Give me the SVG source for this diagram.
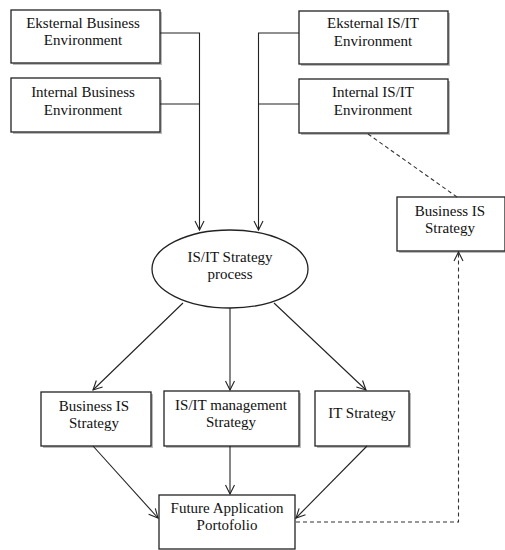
<svg xmlns="http://www.w3.org/2000/svg" width="505" height="550" viewBox="0 0 505 550">
<style>
.box{fill:#fff;stroke:#222;stroke-width:1.3}
.sh{fill:#bbb}
.t{font-family:"Liberation Serif","Times New Roman",serif;font-size:15px;fill:#111;text-anchor:middle}
.c{fill:none;stroke:#222;stroke-width:1.1}
.d{fill:none;stroke:#333;stroke-width:1.1;stroke-dasharray:4 3}
</style>
<defs>
<marker id="a" markerWidth="12" markerHeight="12" refX="10" refY="6" orient="auto" markerUnits="userSpaceOnUse">
<polyline points="1,1.5 10,6 1,10.5" fill="none" stroke="#222" stroke-width="1.1"/>
</marker>
</defs>
<rect width="505" height="550" fill="#fff"/>
<g id="n1"><rect class="sh" x="13" y="12" width="149" height="53"/><rect class="box" x="11" y="10" width="149" height="53"/><text class="t" x="83" y="28">Eksternal Business</text><text class="t" x="83" y="45">Environment</text></g>
<g id="n2"><rect class="sh" x="13" y="80" width="149" height="54"/><rect class="box" x="11" y="78" width="149" height="54"/><text class="t" x="83" y="97">Internal Business</text><text class="t" x="83" y="115">Environment</text></g>
<g id="n3"><rect class="sh" x="301" y="13" width="149" height="53"/><rect class="box" x="299" y="11" width="149" height="53"/><text class="t" x="373" y="28">Eksternal IS/IT</text><text class="t" x="373" y="46">Environment</text></g>
<g id="n4"><rect class="sh" x="301" y="81" width="149" height="54"/><rect class="box" x="299" y="79" width="149" height="54"/><text class="t" x="373" y="97">Internal IS/IT</text><text class="t" x="373" y="115">Environment</text></g>
<g id="n5"><ellipse class="box" cx="230" cy="269" rx="78" ry="39"/><text class="t" x="230" y="262">IS/IT Strategy</text><text class="t" x="230" y="279">process</text></g>
<g id="n6"><rect class="sh" x="399" y="199" width="108" height="54"/><rect class="box" x="397" y="197" width="108" height="54"/><text class="t" x="450" y="216">Business IS</text><text class="t" x="450" y="233">Strategy</text></g>
<g id="n7"><rect class="sh" x="43" y="394" width="110" height="54"/><rect class="box" x="41" y="392" width="110" height="54"/><text class="t" x="94" y="411">Business IS</text><text class="t" x="94" y="428">Strategy</text></g>
<g id="n8"><rect class="sh" x="166" y="393" width="135" height="55"/><rect class="box" x="164" y="391" width="135" height="55"/><text class="t" x="231" y="410">IS/IT management</text><text class="t" x="231" y="427">Strategy</text></g>
<g id="n9"><rect class="sh" x="317" y="393" width="94" height="55"/><rect class="box" x="315" y="391" width="94" height="55"/><text class="t" x="362" y="418">IT Strategy</text></g>
<g id="n10"><rect class="box" x="159" y="495" width="136" height="54"/><text class="t" x="227" y="513">Future Application</text><text class="t" x="227" y="530">Portofolio</text></g>
<g id="connectors">
<polyline class="c" points="160,33 199.5,33 199.5,230" marker-end="url(#a)"/>
<line class="c" x1="160" y1="104" x2="199.5" y2="104"/>
<polyline class="c" points="299,33 258.5,33 258.5,230" marker-end="url(#a)"/>
<line class="c" x1="299" y1="104" x2="258.5" y2="104"/>
<line class="c" x1="183" y1="303" x2="93" y2="390" marker-end="url(#a)"/>
<line class="c" x1="230" y1="308" x2="230" y2="390" marker-end="url(#a)"/>
<line class="c" x1="274" y1="303" x2="366" y2="390" marker-end="url(#a)"/>
<line class="c" x1="93" y1="446" x2="158" y2="518" marker-end="url(#a)"/>
<line class="c" x1="230" y1="446" x2="230" y2="494" marker-end="url(#a)"/>
<line class="c" x1="367" y1="446" x2="296" y2="518" marker-end="url(#a)"/>
<line class="d" x1="368" y1="134" x2="457" y2="197"/>
<polyline class="d" points="296,522 458.5,522 458.5,252" marker-end="url(#a)"/>
</g>
</svg>
